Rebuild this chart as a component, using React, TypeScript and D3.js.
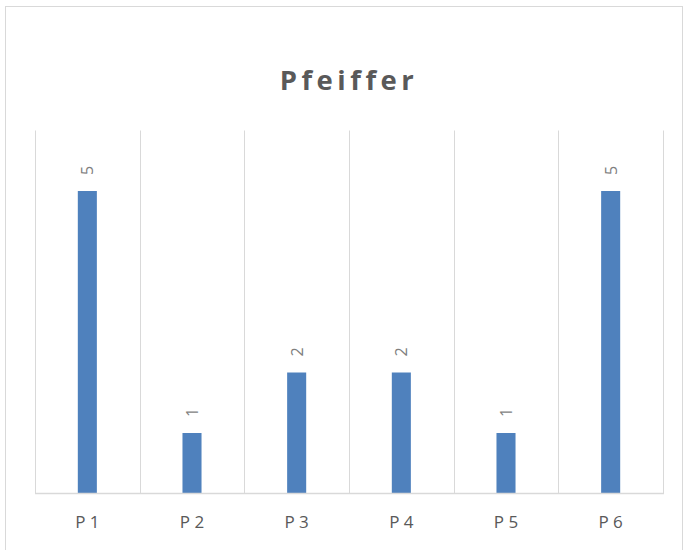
import * as d3 from 'd3'
import { useEffect, useRef } from 'react'

const categories = ['P 1', 'P 2', 'P 3', 'P 4', 'P 5', 'P 6']
const values = [5, 1, 2, 2, 1, 5]
const title = 'Pfeiffer'
const yMax = 6

const W = 684
const H = 550
const FONT = '"Open Sans", "Noto Sans", sans-serif'

export default function App() {
  const ref = useRef<SVGSVGElement | null>(null)

  useEffect(() => {
    const svgEl = ref.current
    if (!svgEl) return
    const svg = d3.select(svgEl)
    svg.selectAll('*').remove()

    const plot = { left: 35, right: 663, top: 130.5, bottom: 493.5 }

    // chart frame
    svg
      .append('rect')
      .attr('x', 5.5)
      .attr('y', 6.5)
      .attr('width', 677)
      .attr('height', 548)
      .attr('fill', '#fff')
      .attr('stroke', '#d9d9d9')

    svg
      .append('text')
      .attr('x', 349)
      .attr('y', 90)
      .attr('text-anchor', 'middle')
      .attr('font-family', FONT)
      .attr('font-weight', 700)
      .attr('font-size', 27.5)
      .attr('letter-spacing', 4.5)
      .attr('fill', '#595959')
      .text(title)

    const x = d3.scaleBand<string>().domain(categories).range([plot.left, plot.right]).padding(0)
    const y = d3.scaleLinear().domain([0, yMax]).range([plot.bottom, plot.top])

    // vertical gridlines at band edges
    const edges = categories.map((c) => x(c)!).concat([plot.right])
    svg
      .append('g')
      .selectAll('line')
      .data(edges)
      .join('line')
      .attr('x1', (d) => Math.round(d) + 0.5)
      .attr('x2', (d) => Math.round(d) + 0.5)
      .attr('y1', plot.top)
      .attr('y2', plot.bottom)
      .attr('stroke', '#d9d9d9')

    const barW = x.bandwidth() * 0.182
    svg
      .append('g')
      .selectAll('rect')
      .data(values)
      .join('rect')
      .attr('x', (_, i) => x(categories[i])! + (x.bandwidth() - barW) / 2)
      .attr('y', (d) => y(d))
      .attr('width', barW)
      .attr('height', (d) => plot.bottom - y(d))
      .attr('fill', '#4f81bd')

    // baseline
    svg
      .append('line')
      .attr('x1', plot.left)
      .attr('x2', plot.right + 1)
      .attr('y1', plot.bottom)
      .attr('y2', plot.bottom)
      .attr('stroke', '#d9d9d9')
      .attr('stroke-width', 1.5)

    // data labels, rotated
    svg
      .append('g')
      .selectAll('text')
      .data(values)
      .join('text')
      .attr('transform', (d, i) => {
        const cx = x(categories[i])! + x.bandwidth() / 2
        return `translate(${cx},${y(d) - 16}) rotate(-90)`
      })
      .attr('text-anchor', 'start')
      .attr('dominant-baseline', 'central')
      .attr('font-family', FONT)
      .attr('font-size', 16)
      .attr('fill', '#7f7f7f')
      .text((d) => String(d))

    // category labels
    svg
      .append('g')
      .selectAll('text')
      .data(categories)
      .join('text')
      .attr('x', (d) => x(d)! + x.bandwidth() / 2)
      .attr('y', 527.5)
      .attr('text-anchor', 'middle')
      .attr('font-family', FONT)
      .attr('font-size', 17)
      .attr('fill', '#595959')
      .text((d) => d)
  }, [])

  return (
    <div style={{ position: 'absolute', left: 0, top: 0 }}>
      <svg ref={ref} width={W} height={H} style={{ display: 'block' }} />
    </div>
  )
}
